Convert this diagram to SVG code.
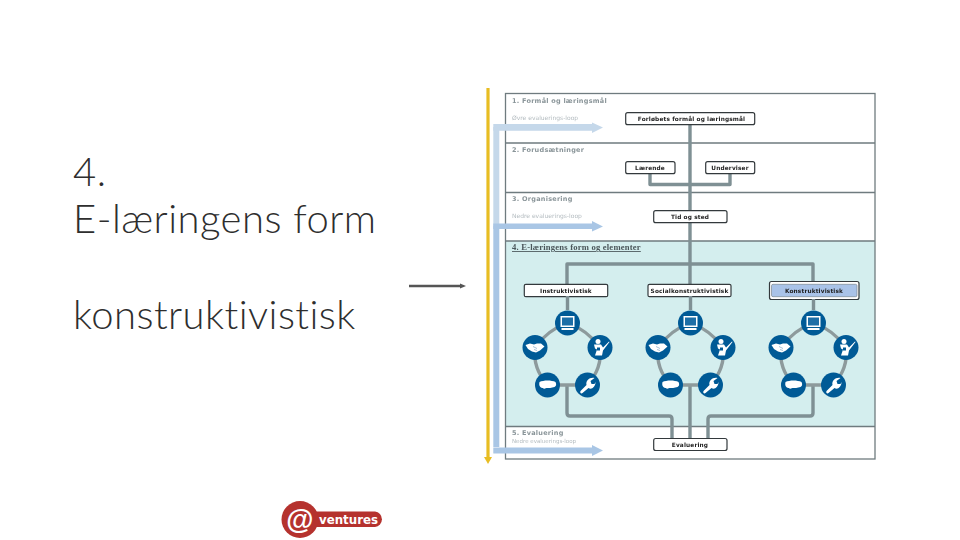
<svg xmlns="http://www.w3.org/2000/svg" width="960" height="540" viewBox="0 0 960 540">
<style>
.h{font-family:"Lato","Open Sans",sans-serif;font-weight:300;font-size:40px;fill:#2e2e2e;letter-spacing:.45px;font-variant-ligatures:none}
.t{font-family:"DejaVu Sans",sans-serif;font-size:5.800px;font-weight:700;fill:#222;text-anchor:middle;letter-spacing:.15px}
.s{font-family:"DejaVu Sans",sans-serif;font-size:6.500px;font-weight:700;fill:#8a9599;letter-spacing:.25px}
.l{font-family:"DejaVu Sans",sans-serif;font-size:6px;fill:#b4bcc0}
.b{fill:#fff;stroke:#33393c;stroke-width:1.2}
.g{fill:none;stroke:#7f9094;stroke-width:3.400;stroke-linejoin:round}
.r{fill:none;stroke:#8d9a9c;stroke-width:3.400}
.p{fill:none;stroke:#6f7b7f;stroke-width:1.300}
.dot{fill:#005a96}
.w{fill:#fff}
</style>
<defs>
<filter id="soft" x="-5%" y="-5%" width="110%" height="110%"><feGaussianBlur stdDeviation="0.3"/></filter>
<g id="mon"><circle class="dot" r="12.5"/><rect class="w" x="-7" y="-7" width="14" height="11"/><rect fill="#1d6ea6" x="-5.500" y="-5.500" width="11" height="8"/><rect class="w" x="-6" y="5" width="12" height="2"/></g>
<g id="hand"><circle class="dot" r="12.5"/><path class="w" d="M-9.500-2.500-5-4-1-3 2-4 6-4 9.500-1 5 3 1 5-3 4-7 1.500Z"/><path d="M-2-1 2 1M-1 2 2 3" stroke="#7fa8c8" stroke-width=".7"/></g>
<g id="tea"><circle class="dot" r="12.5"/><circle class="w" cx="-2" cy="-6" r="2.500"/><path class="w" d="M-6-3 1-3 3 0 9-6 9.500-5.500 3 3 2 8-5 8-3 2-5 1Z"/><rect class="dot" x="-3" y="0" width="3" height="3"/></g>
<g id="talk"><circle class="dot" r="12.5"/><path class="w" d="M-8-3C-4-5 4-5 8-3 9-1 9 1 7 2 4 3 1 3-1 3L-4 4-4 3C-7 3-9 1-8-3Z"/></g>
<g id="wr"><circle class="dot" r="12.5"/><path class="w" d="M-7 6-1 0C-2-4 2-8 7-7L3-4 4-1 7-1 8-3C8 2 4 5 1 3L-5 8C-6 9-8 8-7 6Z"/></g>
<g id="pent"><path class="r" d="M0 0Q20 7 32.500 24.500Q35 45 20 62H-20Q-35 45-32.500 24.500Q-20 7 0 0Z"/><use href="#mon"/><use href="#hand" x="-32.500" y="24.500"/><use href="#tea" x="32.500" y="24.500"/><use href="#talk" x="-20" y="62"/><use href="#wr" x="20" y="62"/></g>
</defs>
<rect width="960" height="540" fill="#fff"/>
<g id="title">
<text class="h" x="73" y="186">4.</text>
<text class="h" x="73" y="233">E-læringens form</text>
<text class="h" x="73" y="329">konstruktivistisk</text>
</g>
<g id="panel">
<rect x="505.500" y="241" width="369.500" height="186" fill="#d4eeee"/>
<rect class="p" x="505.500" y="93.500" width="369.500" height="365.500"/>
<path class="p" d="M505.500 143H875M505.500 192.500H875M505.500 241H875M505.500 426.500H875"/>
<g filter="url(#soft)">
<text class="s" x="512" y="103">1. Formål og læringsmål</text>
<text class="l" x="512" y="120">Øvre evaluerings-loop</text>
<text class="s" x="512" y="152">2. Forudsætninger</text>
<text class="s" x="512" y="201">3. Organisering</text>
<text class="l" x="512" y="218">Nedre evaluerings-loop</text>
<text x="512" y="250" font-family="Liberation Serif,serif" font-weight="700" font-size="8.600" fill="#4a565a" text-decoration="underline" letter-spacing=".2">4. E-læringens form og elementer</text>
<text class="s" x="512" y="435">5. Evaluering</text>
<text class="l" x="512" y="443" style="font-size:5.500px">Nedre evaluerings-loop</text>
</g>
</g>
<g id="connectors">
<path class="g" d="M690 124V284M650 173V184.500H730V173M567 296V264H813V283M690 385V438M567 385V413Q567 416 570 416H669Q672 416 672 419V438M813 385V413Q813 416 810 416H711Q708 416 708 419V438"/>
<path d="M496.300 127V226" fill="none" stroke="#c5d8ea" stroke-width="6"/>
<path d="M493.300 124H592V122.500L603 127.500 592 133V130.700H493.300Z" fill="#c5d8ea"/>
<path d="M496.300 226V447" fill="none" stroke="#a9c6e5" stroke-width="6"/>
<path d="M493.300 223.500H592V221L603 226.500 592 231.500V229H493.300Z" fill="#a9c6e5"/>
<path d="M493.300 447.500H592V445L603 450.500 592 456V453.500H493.300Z" fill="#a9c6e5"/>
<path d="M488 88V458" stroke="#e8bd22" stroke-width="3.200"/>
<path d="M484 457H492L488 464Z" fill="#e8bd22"/>
<path d="M409 286H460" stroke="#555" stroke-width="2.400"/>
<path d="M460 283.500 466 286 460 288.500Z" fill="#555"/>
</g>
<g id="n-forlob"><rect class="b" x="625.700" y="112.700" width="129" height="12" rx="2"/><text class="t" x="691.500" y="120.800" filter="url(#soft)">Forløbets formål og læringsmål</text></g>
<g id="n-laerende"><rect class="b" x="625.700" y="161.700" width="49.300" height="12" rx="2"/><text class="t" x="650" y="170" filter="url(#soft)">Lærende</text></g>
<g id="n-underviser"><rect class="b" x="705.700" y="161.700" width="49" height="12" rx="2"/><text class="t" x="730" y="170" filter="url(#soft)">Underviser</text></g>
<g id="n-tid"><rect class="b" x="653.700" y="210.700" width="73.300" height="12" rx="2"/><text class="t" x="690" y="219" filter="url(#soft)">Tid og sted</text></g>
<g id="n-evaluering"><rect class="b" x="653.700" y="438.500" width="73.300" height="12" rx="2"/><text class="t" x="690" y="446.700" filter="url(#soft)">Evaluering</text></g>
<g id="n-instr"><rect class="b" x="524.300" y="284.300" width="83.400" height="12.400" rx="1.500"/><text class="t" x="566" y="292.800" filter="url(#soft)">Instruktivistisk</text></g>
<g id="n-social"><rect class="b" x="648" y="284.300" width="83" height="12.400" rx="1.500"/><text class="t" x="689.500" y="292.800" filter="url(#soft)">Socialkonstruktivistisk</text></g>
<g id="n-konstr"><rect class="b" x="769.500" y="281.500" width="89.500" height="18" rx="2"/><rect x="771.500" y="284.300" width="85.500" height="12.400" rx="1.500" fill="#a9c3e8" stroke="#6f7b7f" stroke-width=".6"/><text class="t" x="814" y="292.800" filter="url(#soft)">Konstruktivistisk</text></g>
<g id="c1"><use href="#pent" x="567.500" y="323"/><path class="g" d="M567.500 296V310"/></g>
<g id="c2"><use href="#pent" x="690.500" y="323"/><path class="g" d="M690.500 296V310"/></g>
<g id="c3"><use href="#pent" x="813.500" y="323"/><path class="g" d="M813.500 299V310"/></g>
<g id="logo">
<path d="M300 511.500H375A7.800 7.800 0 0 1 375 527H300Z" fill="#b5322e"/>
<circle cx="300" cy="519.500" r="18.500" fill="#b5322e"/>
<text x="299.500" y="528.500" font-family="Liberation Sans,sans-serif" font-weight="700" font-style="italic" font-size="28" fill="#fff" text-anchor="middle">@</text>
<text x="319" y="523.500" font-family="DejaVu Sans,sans-serif" font-weight="700" font-size="11.500" fill="#fff" textLength="59" lengthAdjust="spacingAndGlyphs">ventures</text>
</g>
</svg>
